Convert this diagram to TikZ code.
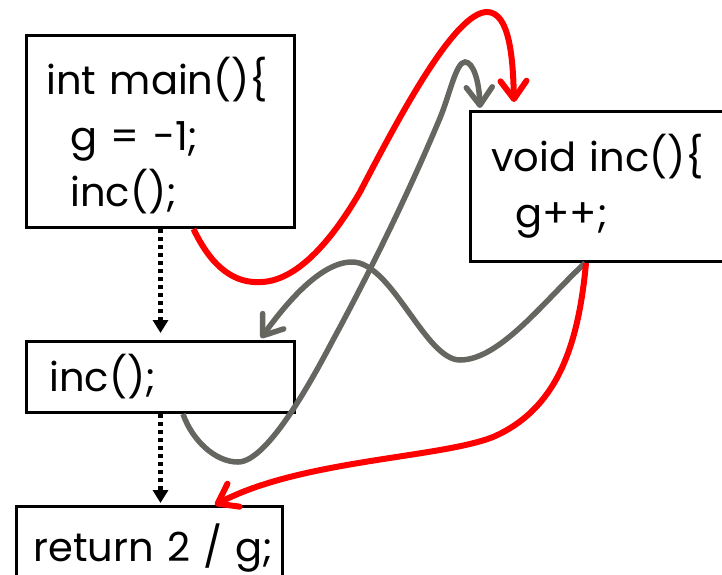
\documentclass[tikz,border=0pt]{standalone}
\usepackage{fontspec}
\setmainfont{Poppins}
\usetikzlibrary{arrows.meta, calc}

\definecolor{flowred}{RGB}{255,0,0}
\definecolor{flowgray}{RGB}{102,102,97}

\begin{document}
\begin{tikzpicture}[
    x=1pt, y=-1pt,
    box/.style={
        rectangle, draw=black, line width=3pt, anchor=north west,
        inner ysep=0pt, align=left,
        font=\fontsize{40}{56}\selectfont
    },
    seqarrow/.style={-{Triangle[length=13pt, width=15pt]}, line width=4.5pt,
        dash pattern=on 4pt off 4pt},
    callflow/.style={-{Straight Barb[length=18pt, width=26pt, round]},
        line width=6pt, flowred},
    grayflow/.style={-{Straight Barb[length=18pt, width=26pt, round]},
        line width=5.5pt, flowgray}
]
\useasboundingbox (0,0) rectangle (722,574);
\clip (0,0) rectangle (722,574);

% Code blocks
\node[box, text width=228pt, inner xsep=20pt, text height=59pt, text depth=133pt]
    (main) at (25,34) {int main()\{\\\hspace*{24pt}g = -1;\\\hspace*{24pt}inc();};
\node[box, text width=258pt, inner xsep=21pt, text height=60pt, text depth=90pt]
    (incfn) at (469,110) {void inc()\{\\\hspace*{24pt}g++;};
\node[box, text width=222pt, inner xsep=23pt, text height=50pt, text depth=21pt]
    (call) at (25,340) {inc();};
\node[box, text width=232pt, inner xsep=17pt, text height=55pt, text depth=45pt]
    (ret) at (15,505) {\mbox{return 2 / g;}};

% Program order
\draw[seqarrow, shorten >=7pt] (main.south) -- (call.north);
\draw[seqarrow, shorten >=2pt] (call.south) -- (call.south |- ret.north);

% First call and its return
\draw[callflow] ($(main.south)+(33,0)$) .. controls (212,268) and (235,284) .. (262,282)
    .. controls (300,280) and (335,235) .. (360,192)
    .. controls (400,115) and (455,12) .. (487,12)
    .. controls (510,12) and (513,60) .. ($(incfn.north west)+(45,-8)$);
\draw[grayflow] ($(incfn.south west)+(116,0)$) .. controls (545,300) and (500,360) .. (460,360)
    .. controls (425,360) and (392,262) .. (352,262)
    .. controls (320,262) and (285,305) .. ($(call.north east)+(-35,-2)$);

% Second call and its return
\draw[grayflow] ($(call.south west)+(158,0)$) .. controls (192,440) and (215,462) .. (238,462)
    .. controls (268,462) and (314,376) .. (333,340)
    .. controls (371,270) and (409,192) .. (440,118)
    .. controls (449.6,95) and (456,62) .. (465,62)
    .. controls (473,62) and (479,80) .. ($(incfn.north west)+(11,-2)$);
\draw[callflow] ($(incfn.south west)+(117,0)$) .. controls (578,350) and (555,410) .. (493,437)
    .. controls (440,458) and (300,460) .. ($(ret.north west)+(200,0)$);

\end{tikzpicture}
\end{document}
